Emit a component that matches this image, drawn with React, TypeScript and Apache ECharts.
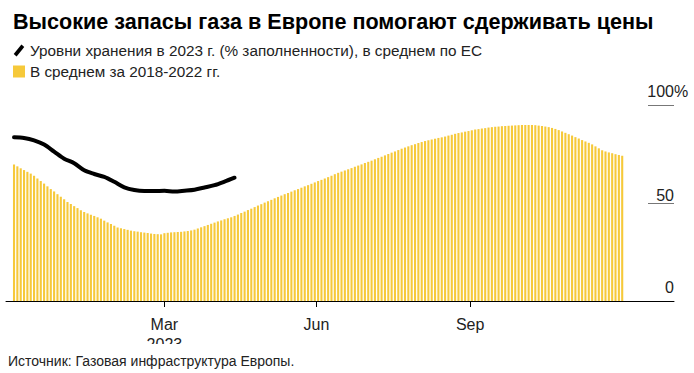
import React, { useEffect, useRef } from "react";
import * as echarts from "echarts";

const FONT = "'Liberation Sans', Arial, sans-serif";

const titleText = "Высокие запасы газа в Европе помогают сдерживать цены";
const lineName = "Уровни хранения в 2023 г. (% заполненности), в среднем по ЕС";
const barName = "В среднем за 2018-2022 гг.";
const sourceText = "Источник: Газовая инфраструктура Европы.";

// 2018-2022 average, one value every 2 days from 1 Jan
const avgStart = "2023-01-01";
const avgStepDays = 2;
const avgValues = [
  69.6, 68.7, 67.7, 66.8, 65.9, 65.0, 63.9, 62.5, 61.2, 59.9,
  58.5, 57.1, 55.9, 54.5, 53.2, 51.9, 50.5, 49.5, 48.4, 47.4,
  46.3, 45.4, 44.7, 44.0, 43.4, 42.7, 42.0, 41.0, 40.1, 39.3,
  38.4, 37.5, 37.1, 36.7, 36.3, 35.9, 35.6, 35.4, 35.1, 34.9,
  34.7, 34.4, 34.2, 34.1, 34.0, 34.6, 34.8, 35.0, 35.1, 35.2,
  35.3, 35.5, 35.7, 36.0, 36.4, 37.0, 37.6, 38.2, 38.8, 39.4,
  40.0, 40.6, 41.1, 41.7, 42.2, 42.7, 43.4, 44.1, 44.9, 45.6,
  46.4, 47.1, 47.9, 48.7, 49.4, 50.2, 50.9, 51.6, 52.4, 53.1,
  53.8, 54.5, 55.1, 55.8, 56.5, 57.1, 57.8, 58.5, 59.1, 59.8,
  60.5, 61.2, 61.8, 62.5, 63.2, 63.9, 64.7, 65.4, 66.0, 66.6,
  67.2, 67.8, 68.5, 69.1, 69.7, 70.4, 71.0, 71.6, 72.3, 73.0,
  73.6, 74.3, 75.0, 75.7, 76.3, 77.0, 77.7, 78.3, 78.9, 79.5,
  80.0, 80.6, 81.1, 81.6, 82.0, 82.4, 82.8, 83.2, 83.5, 83.9,
  84.4, 84.8, 85.3, 85.7, 86.0, 86.4, 86.7, 87.1, 87.5, 87.7,
  88.0, 88.2, 88.5, 88.7, 88.9, 89.0, 89.2, 89.3, 89.4, 89.5,
  89.6, 89.7, 89.8, 89.8, 89.8, 89.8, 89.7, 89.5, 89.3, 89.0,
  88.7, 88.3, 87.8, 87.2, 86.5, 85.8, 85.1, 84.4, 83.6, 82.9,
  82.1, 81.4, 80.7, 79.9, 78.9, 77.9, 76.9, 76.3, 75.8, 75.4,
  74.9, 74.5, 74.1,
];

// 2023 storage level, one value every 6 days from 1 Jan
const storageStart = "2023-01-01";
const storageStepDays = 6;
const storageValues = [
  83.5, 83.2, 82.0, 79.8, 76.2, 72.6, 70.3, 66.7, 64.8, 63.3,
  60.8, 58.0, 56.6, 56.1, 56.1, 56.2, 55.9, 56.3, 56.8, 57.9,
  59.1, 60.9, 62.9,
];

const axisMinDate = "2022-12-27T04:48:00Z";
const axisMaxDate = "2024-01-31T00:00:00Z";
const tickDates = ["2023-04-01", "2023-07-01", "2023-10-01"];
const tickLabels = ["Mar\n2023", "Jun", "Sep"];
const yTicks = [0, 50, 100];

const DAY = 86400000;
const ORIGIN = Date.UTC(2023, 0, 1);
const toDay = (s: string) =>
  (new Date(s.length === 10 ? s + "T00:00:00Z" : s).getTime() - ORIGIN) / DAY;

export default function App() {
  const ref = useRef<HTMLDivElement>(null);

  useEffect(() => {
    if (!ref.current) return;
    const chart = echarts.init(ref.current, null, { renderer: "svg" });
    const avgD0 = toDay(avgStart);
    const stD0 = toDay(storageStart);
    const tickDays = tickDates.map(toDay);

    chart.setOption({
      animation: false,
      title: {
        text: titleText,
        left: 8,
        top: 5,
        textStyle: { fontSize: 21.6, fontWeight: "bold", color: "#000", fontFamily: FONT },
      },
      legend: {
        orient: "vertical",
        left: 8,
        top: 38,
        itemWidth: 12,
        itemHeight: 12,
        itemGap: 6,
        selectedMode: false,
        textStyle: { fontSize: 15.3, color: "#222", fontFamily: FONT },
        data: [
          { name: lineName, icon: "path://M0,10 L8,0 L11,2.5 L3,12.5 Z", itemStyle: { color: "#000" } },
          { name: barName, icon: "rect", itemStyle: { color: "#f6c93a" } },
        ],
      },
      grid: [
        { left: 6, right: 20, top: 105, bottom: 43, outerBoundsMode: "none", containLabel: false },
        { left: 648, right: 20, top: 105, bottom: 43, outerBoundsMode: "none", containLabel: false },
      ],
      xAxis: [
        {
          type: "value",
          gridIndex: 0,
          min: toDay(axisMinDate),
          max: toDay(axisMaxDate),
          axisLine: { lineStyle: { color: "#000", width: 1 } },
          axisTick: { show: true, customValues: tickDays, length: 6, lineStyle: { color: "#000" } },
          axisLabel: {
            customValues: tickDays,
            formatter: (v: number) => {
              const i = tickDays.findIndex((d) => Math.abs(d - v) < 0.01);
              return i >= 0 ? tickLabels[i] : "";
            },
            fontSize: 16,
            lineHeight: 20,
            color: "#222",
            fontFamily: FONT,
            margin: 13,
          },
          splitLine: { show: false },
        },
        { type: "value", gridIndex: 1, show: false },
      ],
      yAxis: [
        { type: "value", gridIndex: 0, min: 0, max: 100, show: false },
        {
          type: "value",
          gridIndex: 1,
          min: 0,
          max: 100,
          interval: 50,
          position: "right",
          axisLine: { show: false },
          axisTick: { show: false },
          splitLine: { show: true, lineStyle: { color: "#777", width: 1 } },
          axisLabel: {
            inside: true,
            margin: 0,
            verticalAlign: "bottom",
            formatter: (v: number) => {
              if (!yTicks.includes(v)) return "";
              if (v === 100) return "{n|100}{p|%}";
              if (v === 50) return "{m|50}";
              return "{n|" + v + "}";
            },
            rich: {
              n: { fontSize: 16, color: "#222", fontFamily: FONT, align: "left", padding: [0, 0, 6, 0] },
              m: { fontSize: 16, color: "#222", fontFamily: FONT, align: "left", padding: [0, 0, 0, 0] },
              p: { fontSize: 16, color: "#222", fontFamily: FONT, align: "left", width: 0, padding: [0, 0, 6, 0] },
            },
          },
        },
      ],
      series: [
        {
          name: barName,
          type: "bar",
          xAxisIndex: 0,
          yAxisIndex: 0,
          barWidth: 2.1,
          itemStyle: { color: "#f6c93a" },
          data: avgValues.map((v, i) => [avgD0 + i * avgStepDays, v]),
        },
        {
          name: lineName,
          type: "line",
          xAxisIndex: 0,
          yAxisIndex: 0,
          smooth: 0.3,
          symbol: "none",
          z: 5,
          itemStyle: { color: "#000" },
          lineStyle: { color: "#000", width: 4, cap: "round" },
          data: storageValues.map((v, i) => [stD0 + i * storageStepDays, v]),
        },
      ],
    });
    return () => chart.dispose();
  }, []);

  return (
    <div style={{ position: "absolute", left: 0, top: 0, width: 694, height: 373, background: "#fff" }}>
      <div ref={ref} style={{ width: 694, height: 344 }} />
      <div
        style={{
          position: "absolute",
          left: 8,
          top: 353,
          fontSize: 14,
          lineHeight: "16px",
          color: "#222",
          fontFamily: FONT,
        }}
      >
        {sourceText}
      </div>
    </div>
  );
}
